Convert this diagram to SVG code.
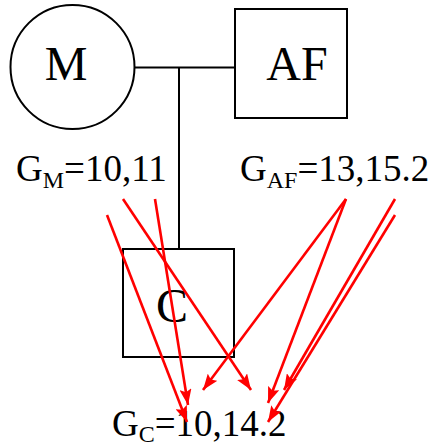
<svg xmlns="http://www.w3.org/2000/svg" width="431" height="447" viewBox="0 0 431 447">
<style>
.n{fill:#fff;stroke:#000;stroke-width:2}
.t{font-family:"Liberation Serif","DejaVu Serif",serif;fill:#000}
.l{stroke:#000;stroke-width:2;fill:none}
.r{stroke:#f00;stroke-width:2.6;fill:none;marker-end:url(#ah)}
</style>
<defs>
<marker id="ah" markerUnits="userSpaceOnUse" viewBox="0 0 16 12" refX="16" refY="6" markerWidth="16" markerHeight="12" orient="auto">
<path d="M0,0 L16,6 L0,12 L3,6 Z" fill="#f00"/>
</marker>
</defs>
<g id="connectors">
<line class="l" x1="135" y1="67.5" x2="235" y2="67.5"/>
<line class="l" x1="179" y1="67.5" x2="179" y2="249"/>
</g>
<g id="M">
<circle class="n" cx="72.5" cy="67" r="62"/>
<text class="t" x="66" y="80" font-size="48" text-anchor="middle">M</text>
</g>
<g id="AF">
<rect class="n" x="235" y="9" width="112" height="109"/>
<text class="t" x="297" y="80" font-size="48" text-anchor="middle">AF</text>
</g>
<g id="C">
<rect class="n" x="123" y="249" width="111" height="108"/>
<text class="t" x="172" y="322" font-size="48" text-anchor="middle">C</text>
</g>
<g id="labels">
<text class="t" x="16" y="181" font-size="37">G<tspan font-size="24" dy="7">M</tspan><tspan dy="-7">=10,11</tspan></text>
<text class="t" x="240" y="181" font-size="37">G<tspan font-size="24" dy="7">AF</tspan><tspan dy="-7">=13,15.2</tspan></text>
<text class="t" x="112" y="436" font-size="37">G<tspan font-size="24" dy="6">C</tspan><tspan dy="-6">=10,14.2</tspan></text>
</g>
<g id="arrows">
<line class="r" x1="107" y1="215" x2="187" y2="422"/>
<line class="r" x1="155" y1="199" x2="188" y2="405"/>
<line class="r" x1="123" y1="199" x2="251" y2="390"/>
<line class="r" x1="346" y1="199" x2="203" y2="390"/>
<line class="r" x1="346" y1="199" x2="268" y2="403"/>
<line class="r" x1="395" y1="199" x2="284" y2="390"/>
<line class="r" x1="395" y1="215" x2="268" y2="422"/>
</g>
</svg>
